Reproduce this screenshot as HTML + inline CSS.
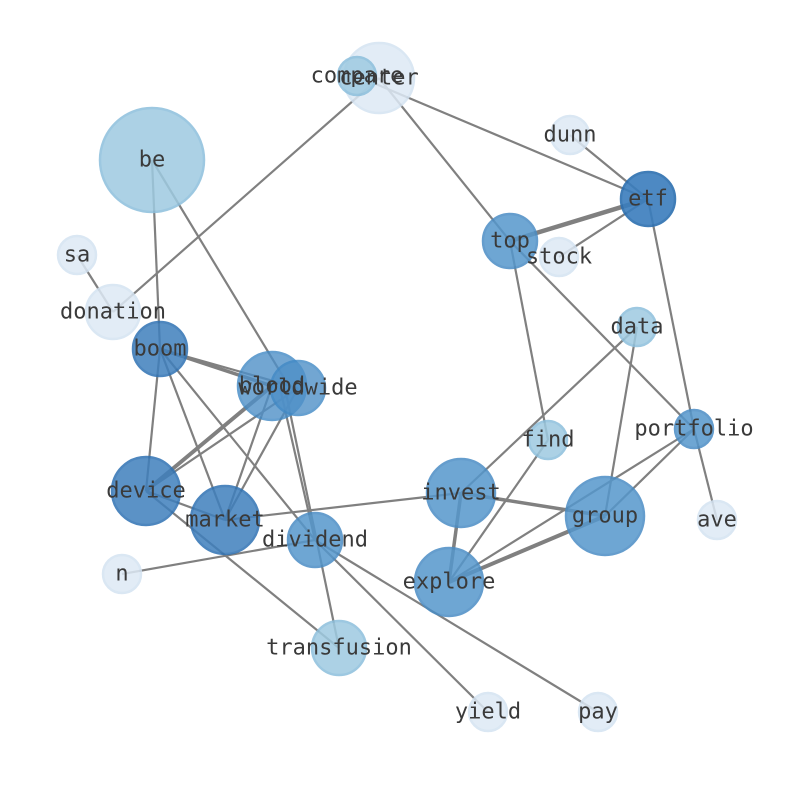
<!DOCTYPE html>
<html><head><meta charset="utf-8"><style>body{margin:0;background:#fff}svg{display:block}text{font-family:"DejaVu Sans Mono","Liberation Mono",monospace;font-size:22px;fill:#3a3a3a;text-anchor:middle;dominant-baseline:central}</style></head><body>
<svg width="794" height="790" viewBox="0 0 794 790">
<g stroke="#808080" stroke-width="2.2" fill="none">
<line x1="379" y1="78" x2="113" y2="312"/>
<line x1="357" y1="76" x2="648" y2="199"/>
<line x1="379" y1="78" x2="510" y2="241"/>
<line x1="570" y1="135" x2="648" y2="199"/>
<line x1="510" y1="241" x2="648" y2="199" stroke-width="4.5"/>
<line x1="559" y1="257" x2="648" y2="199"/>
<line x1="648" y1="199" x2="694" y2="429"/>
<line x1="694" y1="429" x2="717" y2="520"/>
<line x1="510" y1="241" x2="548" y2="440"/>
<line x1="510" y1="241" x2="694" y2="429"/>
<line x1="152" y1="160" x2="160" y2="349"/>
<line x1="152" y1="160" x2="290" y2="388"/>
<line x1="77" y1="255" x2="113" y2="312"/>
<line x1="160" y1="349" x2="272" y2="386" stroke-width="3.5"/>
<line x1="160" y1="349" x2="298" y2="388"/>
<line x1="160" y1="349" x2="146" y2="491"/>
<line x1="160" y1="349" x2="225" y2="520"/>
<line x1="160" y1="349" x2="315" y2="540"/>
<line x1="272" y1="386" x2="146" y2="491" stroke-width="4"/>
<line x1="298" y1="388" x2="146" y2="491"/>
<line x1="272" y1="386" x2="225" y2="520"/>
<line x1="298" y1="388" x2="225" y2="520"/>
<line x1="280" y1="388" x2="315" y2="540"/>
<line x1="285" y1="388" x2="339" y2="648"/>
<line x1="146" y1="491" x2="225" y2="520"/>
<line x1="146" y1="491" x2="339" y2="648"/>
<line x1="225" y1="520" x2="461" y2="493"/>
<line x1="122" y1="574" x2="315" y2="540"/>
<line x1="315" y1="540" x2="488" y2="712"/>
<line x1="315" y1="540" x2="598" y2="712"/>
<line x1="461" y1="493" x2="637" y2="327"/>
<line x1="461" y1="493" x2="605" y2="516" stroke-width="3.5"/>
<line x1="461" y1="493" x2="449" y2="582" stroke-width="3.5"/>
<line x1="449" y1="582" x2="605" y2="516" stroke-width="4"/>
<line x1="449" y1="582" x2="548" y2="440"/>
<line x1="449" y1="582" x2="694" y2="429"/>
<line x1="605" y1="516" x2="694" y2="429"/>
<line x1="605" y1="516" x2="637" y2="327"/>
</g>
<g stroke-width="2.5">
<circle cx="379" cy="78" r="35" fill="#dde9f5" stroke="#d4e3f2" opacity=".85"/>
<circle cx="357" cy="76" r="19" fill="#9ecae1" stroke="#8cbfdc" opacity=".85"/>
<circle cx="152" cy="160" r="52" fill="#9ecae1" stroke="#8cbfdc" opacity=".85"/>
<circle cx="570" cy="135" r="19" fill="#dde9f5" stroke="#d4e3f2" opacity=".85"/>
<circle cx="648" cy="199" r="27" fill="#3a7dbd" stroke="#2c6fb0" opacity=".9"/>
<circle cx="510" cy="241" r="27" fill="#5597cc" stroke="#4b8dc5" opacity=".85"/>
<circle cx="559" cy="257" r="19" fill="#dde9f5" stroke="#d4e3f2" opacity=".85"/>
<circle cx="77" cy="255" r="19" fill="#dde9f5" stroke="#d4e3f2" opacity=".85"/>
<circle cx="113" cy="312" r="27" fill="#dde9f5" stroke="#d4e3f2" opacity=".85"/>
<circle cx="637" cy="327" r="19" fill="#9ecae1" stroke="#8cbfdc" opacity=".85"/>
<circle cx="160" cy="349" r="27" fill="#3f7fbd" stroke="#2f72b3" opacity=".85"/>
<circle cx="272" cy="386" r="34" fill="#4f90c8" stroke="#4189c5" opacity=".8"/>
<circle cx="298" cy="388" r="27" fill="#4f90c8" stroke="#4189c5" opacity=".8"/>
<circle cx="548" cy="440" r="19" fill="#9ecae1" stroke="#8cbfdc" opacity=".85"/>
<circle cx="694" cy="429" r="19" fill="#5597cc" stroke="#4b8dc5" opacity=".85"/>
<circle cx="146" cy="491" r="34" fill="#3f7fbd" stroke="#2f72b3" opacity=".85"/>
<circle cx="225" cy="520" r="34" fill="#3f7fbd" stroke="#2f72b3" opacity=".85"/>
<circle cx="461" cy="493" r="34" fill="#5597cc" stroke="#4b8dc5" opacity=".85"/>
<circle cx="605" cy="516" r="39" fill="#5597cc" stroke="#4b8dc5" opacity=".85"/>
<circle cx="717" cy="520" r="19" fill="#dde9f5" stroke="#d4e3f2" opacity=".85"/>
<circle cx="315" cy="540" r="27" fill="#5597cc" stroke="#4b8dc5" opacity=".85"/>
<circle cx="122" cy="574" r="19" fill="#dde9f5" stroke="#d4e3f2" opacity=".85"/>
<circle cx="449" cy="582" r="34" fill="#5597cc" stroke="#4b8dc5" opacity=".85"/>
<circle cx="339" cy="648" r="27" fill="#9ecae1" stroke="#8cbfdc" opacity=".85"/>
<circle cx="488" cy="712" r="19" fill="#dde9f5" stroke="#d4e3f2" opacity=".85"/>
<circle cx="598" cy="712" r="19" fill="#dde9f5" stroke="#d4e3f2" opacity=".85"/>
</g>
<g>
<text x="379" y="78">center</text>
<text x="357" y="76">compare</text>
<text x="152" y="160">be</text>
<text x="570" y="135">dunn</text>
<text x="648" y="199">etf</text>
<text x="510" y="241">top</text>
<text x="559" y="257">stock</text>
<text x="77" y="255">sa</text>
<text x="113" y="312">donation</text>
<text x="637" y="327">data</text>
<text x="160" y="349">boom</text>
<text x="272" y="386">blood</text>
<text x="298" y="388">worldwide</text>
<text x="548" y="440">find</text>
<text x="694" y="429">portfolio</text>
<text x="146" y="491">device</text>
<text x="225" y="520">market</text>
<text x="461" y="493">invest</text>
<text x="605" y="516">group</text>
<text x="717" y="520">ave</text>
<text x="315" y="540">dividend</text>
<text x="122" y="574">n</text>
<text x="449" y="582">explore</text>
<text x="339" y="648">transfusion</text>
<text x="488" y="712">yield</text>
<text x="598" y="712">pay</text>
</g>
</svg>
</body></html>
